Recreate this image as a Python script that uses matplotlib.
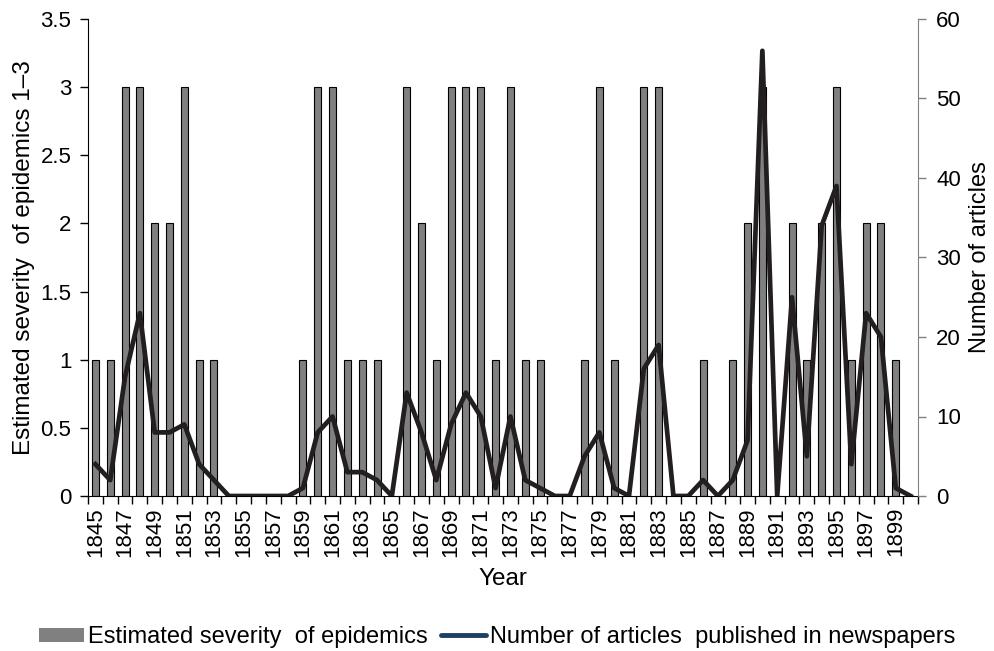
import matplotlib
matplotlib.use("Agg")
import matplotlib.pyplot as plt
import numpy as np
from matplotlib.patches import Patch
from matplotlib.lines import Line2D

plt.rcParams['font.family'] = ['Liberation Sans', 'DejaVu Sans']

years = list(range(1845, 1901))
severity = [1, 1, 3, 3, 2, 2, 3, 1, 1, 0,
            0, 0, 0, 0, 1, 3, 3, 1, 1, 1,
            0, 3, 2, 1, 3, 3, 3, 1, 3, 1,
            1, 0, 0, 1, 3, 1, 0, 3, 3, 0,
            0, 1, 0, 1, 2, 3, 0, 2, 1, 2,
            3, 1, 2, 2, 1, 0]
articles = [4, 2, 15, 23, 8, 8, 9, 4, 2, 0,
            0, 0, 0, 0, 1, 8, 10, 3, 3, 2,
            0, 13, 8, 2, 9, 13, 10, 1, 10, 2,
            1, 0, 0, 5, 8, 1, 0, 16, 19, 0,
            0, 2, 0, 2, 7, 56, 0, 25, 5, 34,
            39, 4, 23, 20, 1, 0]

fig = plt.figure(figsize=(9.94, 6.51), dpi=100)
ax = fig.add_axes([88/994, 1-496/651, (918-88)/994, (496-19)/651])
x = np.arange(len(years))
ax.bar(x, severity, width=0.47, color='#808080', edgecolor='black', linewidth=0.8, zorder=2)
ax.set_xlim(-0.5, len(years)-0.5)
ax.set_ylim(0, 3.5)
ax.set_yticks(np.arange(0, 3.51, 0.5))
ax.set_yticklabels(['0', '0.5', '1', '1.5', '2', '2.5', '3', '3.5'])
ax.set_ylabel('Estimated severity  of epidemics 1\u20133', fontsize=17.5, labelpad=4)
ax.set_xlabel('Year', fontsize=17.5, labelpad=8)

ax.set_xticks(x[::2])
ax.set_xticklabels([str(y) for y in years[::2]], rotation=90)
ax.set_xticks(np.arange(-0.5, len(years), 1), minor=True)
ax.tick_params(axis='x', which='major', length=0, labelsize=16, pad=8)
ax.tick_params(axis='x', which='minor', length=6, direction='out', width=1)
ax.tick_params(axis='y', labelsize=16, length=6, width=1, pad=6)
ax.spines['top'].set_visible(False)
ax.spines['right'].set_visible(False)

ax2 = ax.twinx()
ax2.plot(x, articles, color='#231f20', linewidth=3.4, solid_joinstyle='round', zorder=3)
ax2.set_ylim(0, 60)
ax2.set_yticks(range(0, 61, 10))
ax2.tick_params(axis='y', labelsize=16, length=6, width=1, color='#808080', pad=7)
ax2.set_ylabel('Number of articles', fontsize=17, labelpad=6)
ax2.spines['top'].set_visible(False)
ax2.spines['left'].set_visible(False)
ax2.spines['bottom'].set_visible(False)
ax2.spines['right'].set_color('#808080')

handles = [Patch(facecolor='#808080', edgecolor='none'),
           Line2D([0], [0], color='#1f3f5f', linewidth=3.5, solid_capstyle='round')]
fig.legend(handles, ['Estimated severity  of epidemics', 'Number of articles  published in newspapers'],
           loc='center', bbox_to_anchor=(0.5, 1-637/651), ncol=2, frameon=False,
           fontsize=17, handlelength=1.9, handleheight=0.55, handletextpad=0.17,
           columnspacing=0.55)

fig.savefig('out.png', dpi=100)
